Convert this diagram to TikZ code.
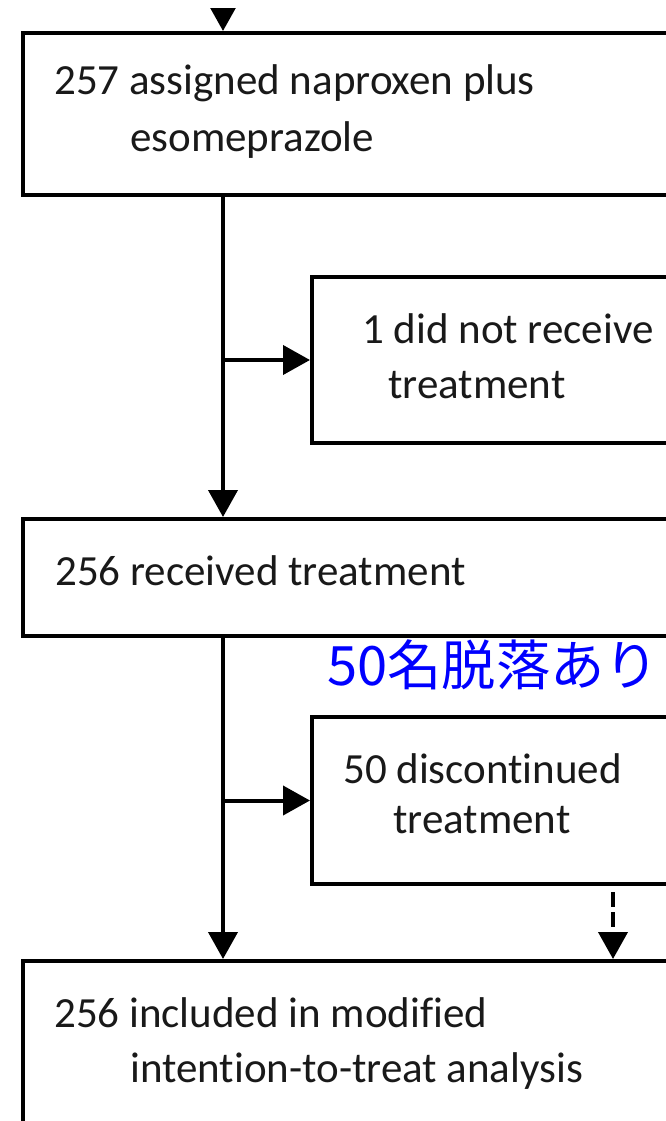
\documentclass[tikz,border=0pt]{standalone}
\usepackage{fontspec}
\setmainfont{Carlito}[Ligatures={NoCommon}]
\newfontfamily\cjkfont{Noto Sans CJK JP}
\usetikzlibrary{arrows.meta}
\tikzset{
  boxnode/.style={draw, line width=4pt, rectangle, anchor=north west, inner sep=0pt, minimum width=720pt},
  txt/.style={anchor=base west, inner sep=0pt, font=\fontsize{43}{50}\selectfont, text=black!90},
  arr/.style={line width=4pt, -{Triangle[length=27pt,width=29pt]}},
}
\begin{document}
\begin{tikzpicture}[x=1pt,y=-1pt]
\useasboundingbox (0,0) rectangle (666,1121);
\clip (0,0) rectangle (666,1121);
\fill[white] (0,0) rectangle (666,1121);
% boxes
\node[boxnode, minimum height=162pt] (box1) at (21,31) {};
\node[boxnode, minimum height=166pt] (box2) at (310,275) {};
\node[boxnode, minimum height=117pt] (box3) at (21,517) {};
\node[boxnode, minimum height=167pt] (box4) at (310,715) {};
\node[boxnode, minimum height=220pt] (box5) at (21,959) {};
% texts
\node[txt] (t1a) at (54,95) {257 assigned naproxen plus};
\node[txt] (t1b) at (130,151) {esomeprazole};
\node[txt] (t2a) at (362,343) {1 did not receive};
\node[txt] (t2b) at (388,398) {treatment};
\node[txt] (t3) at (55,585) {256 received treatment};
\node[anchor=base west, inner sep=0pt, font=\cjkfont\fontsize{54.3}{60}\selectfont, text={rgb,255:red,0;green,0;blue,255}] (note) at (327,685) {50名脱落あり};
\node[txt] (t4a) at (343,783) {50 discontinued};
\node[txt] (t4b) at (393,833) {treatment};
\node[txt] (t5a) at (54,1027) {256 included in modified};
\node[txt] (t5b) at (130,1082) {intention-to-treat analysis};
% connectors
\coordinate (trunk) at (223,0);
\coordinate (dashx) at (613,0);
\coordinate (topin) at (223,-40);
\begin{scope}
\clip (0,9) rectangle (666,60);
\draw[arr] (topin) -- (box1.north -| trunk);
\end{scope}
\draw[arr] (box1.south -| trunk) -- (box3.north -| trunk);
\draw[arr] (box2.west -| trunk) -- (box2.west);
\draw[arr] (box3.south -| trunk) -- (box5.north -| trunk);
\draw[arr] (box4.west -| trunk) -- (box4.west);
\draw[arr, dash pattern=on 15pt off 5pt, shorten <=6pt] (box4.south -| dashx) -- (box5.north -| dashx);
\end{tikzpicture}
\end{document}
